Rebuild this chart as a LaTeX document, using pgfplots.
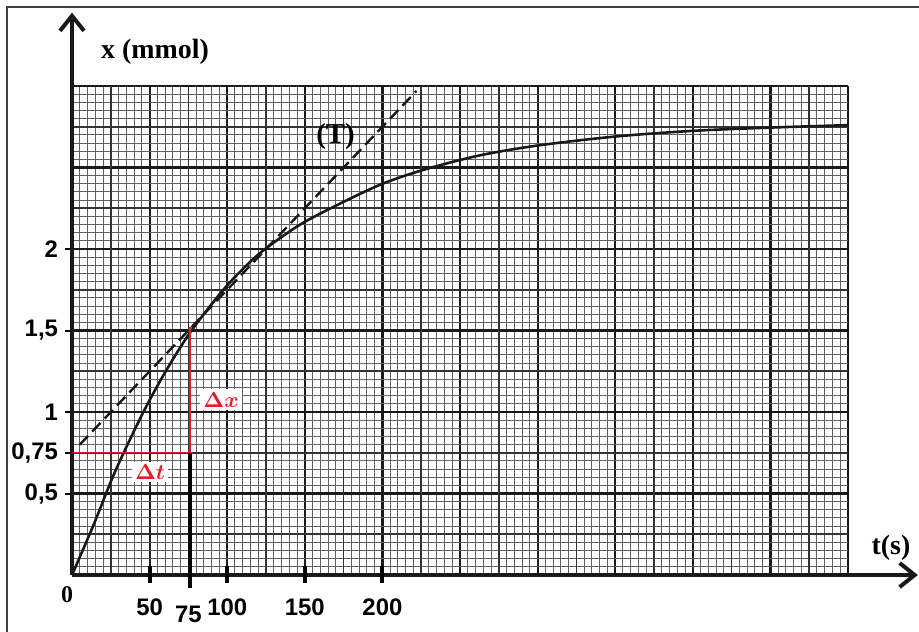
\documentclass[border=0pt]{standalone}
\usepackage{amsmath}
\usepackage{pgfplots}
\pgfplotsset{compat=1.18}
\usetikzlibrary{arrows.meta}
\usepackage{fontspec}
\newfontfamily\arialf{Liberation Sans}
\newfontfamily\timesf{Liberation Serif}
\definecolor{redl}{RGB}{226,30,45}
\begin{document}
\begin{tikzpicture}[x=1bp,y=1bp]
\useasboundingbox (0,0) rectangle (459.5,-315.5);
\clip (0,0) rectangle (459.5,-315.5);
\fill[white] (0,0) rectangle (459.5,-315.5);
\draw[line width=1bp, black!75] (3.6,-320) -- (3.6,-3.6) -- (465,-3.6);
% graph paper
\begin{axis}[at={(36bp,-287.5bp)}, anchor=south west, x=0.776bp, y=81.5bp,
  xmin=0, xmax=500, ymin=0, ymax=3,
  axis line style={draw=none},
  xtick={0,50,...,500}, ytick={0,0.5,...,3},
  minor xtick={0,5,...,500}, minor ytick={0,0.05,...,3},
  extra x ticks={25,75,...,475}, extra y ticks={0.25,0.75,...,2.75},
  extra tick style={grid=major, major grid style={line width=0.8bp, black!80}, tick style={draw=none}},
  grid=both,
  major grid style={line width=1.1bp, black!90},
  minor grid style={line width=0.5bp, black!62},
  xticklabels={}, yticklabels={}, extra x tick labels={}, extra y tick labels={},
  tick style={draw=none}, clip=false]
\end{axis}
% axes, curve, annotations
\begin{axis}[at={(36bp,-287.5bp)}, anchor=south west, x=0.776bp, y=81.5bp,
  xmin=0, xmax=545, ymin=0, ymax=3.45,
  axis x line*=bottom, axis y line*=left,
  axis line style={line width=2bp, black!90, -{Straight Barb[length=7.5bp,width=12bp,line width=2bp]}},
  xtick={50,100,150,200}, xticklabels={50,100,150,200},
  xticklabel style={yshift=-4.75bp},
  extra x ticks={75}, extra x tick labels={75},
  extra x tick style={xticklabel style={yshift=-3.5bp}},
  ytick={0.5,0.75,1,1.5,2}, yticklabels={{0,5},{0,75},1,{1,5},2},
  xtick style={draw=none}, ytick style={line width=1bp, black},
  tick align=outside, major tick length=3.5bp,
  ticklabel style={font=\fontsize{12}{14}\selectfont\arialf\bfseries},
  clip=false]
\addplot[smooth, line width=1.3bp, black!90] coordinates {
 (0,0) (14,0.31) (28,0.64) (46,1.0) (61,1.26) (77,1.5) (97.5,1.75) (112.5,1.90)
 (124.4,2.0) (147,2.15) (173,2.28) (200,2.40) (228,2.49) (263,2.575) (300,2.635)
 (350,2.69) (400,2.725) (450,2.745) (500,2.76)};
\addplot[line width=1.2bp, black!90, dash pattern=on 6bp off 3bp] coordinates {(5,0.80) (222,2.97)};
\addplot[redl, line width=0.7bp] coordinates {(0,0.75) (78,0.75)};
\addplot[redl, line width=0.7bp] coordinates {(76,0.75) (76,1.52)};
\addplot[black, line width=2bp] coordinates {(76,-0.08) (76,0.75)};
\addplot[black, line width=2bp] coordinates {(50,-0.05) (50,0.055)};
\addplot[black, line width=2bp] coordinates {(100,-0.05) (100,0.055)};
\addplot[black, line width=2bp] coordinates {(150,-0.05) (150,0.055)};
\addplot[black, line width=2bp] coordinates {(200,-0.05) (200,0.055)};
\node[font=\fontsize{14}{16}\selectfont\timesf\bfseries] at (axis cs:53.5,3.21) {x (mmol)};
\node[font=\fontsize{14}{16}\selectfont\timesf\bfseries] at (axis cs:527.7,0.17) {t(s)};
\node[font=\fontsize{12}{14}\selectfont\timesf\bfseries] at (axis cs:-3.2,-0.123) {0};
\node[font=\fontsize{14.5}{16}\selectfont\timesf\bfseries] at (axis cs:169.8,2.69) {(T)};
\node[fill=white, inner sep=1.5bp, text=redl, font=\fontsize{10.5}{12}\selectfont] at (axis cs:96,1.074) {$\boldsymbol{\Delta x}$};
\node[fill=white, inner sep=1.5bp, text=redl, font=\fontsize{10.5}{12}\selectfont] at (axis cs:50.3,0.632) {$\boldsymbol{\Delta t}$};
\end{axis}
\end{tikzpicture}
\end{document}
